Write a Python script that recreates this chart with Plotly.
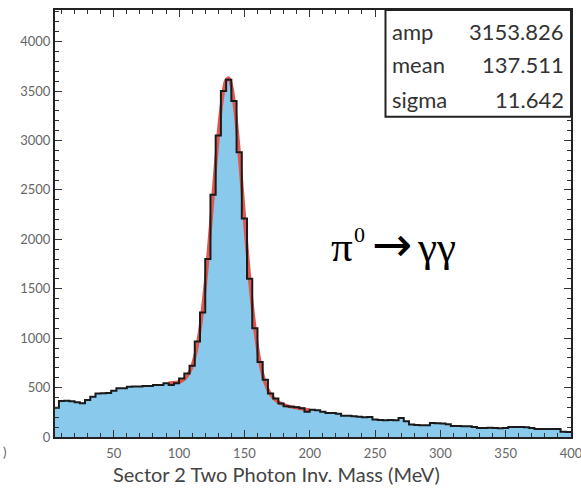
import plotly.graph_objects as go

# ---- data ----
bin_width = 4
first_edge = 4
counts = [295, 364, 366, 362, 352, 341, 374, 408, 440, 442,
          446, 469, 492, 494, 508, 510, 512, 516, 517, 526,
          527, 543, 526, 543, 592, 642, 720, 965, 1260, 1800,
          2450, 3050, 3500, 3615, 3400, 2880, 2210, 1600, 1100, 760,
          580, 440, 390, 340, 310, 305, 302, 290, 255, 275,
          270, 256, 243, 242, 236, 214, 215, 210, 206, 200,
          202, 176, 172, 170, 173, 170, 192, 160, 126, 121,
          120, 118, 142, 140, 137, 130, 112, 112, 108, 110,
          100, 92, 90, 93, 90, 88, 90, 100, 102, 100,
          98, 90, 82, 80, 80, 82, 80, 52, 50]

fit_mass = [92, 94, 96, 98, 100, 102, 104, 106, 108, 110,
            112, 114, 116, 118, 120, 122, 124, 126, 128, 130,
            132, 134, 136, 138, 140, 142, 144, 146, 148, 150,
            152, 154, 156, 158, 160, 162, 164, 166, 168, 170,
            172, 174, 176, 178, 180, 182, 184, 186, 188, 190,
            192, 194, 196, 198, 200]
fit_vals = [546, 547, 550, 552, 557, 568, 585, 614, 657, 721,
            811, 932, 1092, 1292, 1533, 1810, 2118, 2442, 2762, 3060,
            3314, 3505, 3613, 3631, 3557, 3396, 3162, 2873, 2550, 2216,
            1896, 1594, 1326, 1103, 902, 751, 633, 545, 480, 433,
            398, 373, 353, 340, 328, 318, 310, 305, 300, 295,
            290, 285, 280, 275, 270]

stat_names = ["amp", "mean", "sigma"]
stat_values = ["3153.826", "137.511", "11.642"]

x_title = "Sector 2 Two Photon Inv. Mass (MeV)"
decay_parts = ["π", "0", "→", "γγ"]   # π⁰→γγ

# ---- build ----
edges = [first_edge + bin_width * i for i in range(len(counts) + 1)]
step_y = counts + [counts[-1]]

fig = go.Figure()
fig.add_trace(go.Scatter(x=edges, y=step_y, mode="lines", line_shape="hv",
                         line=dict(width=0, color="rgba(0,0,0,0)"),
                         fill="tozeroy", fillcolor="#88C9EC", hoverinfo="skip"))
fig.add_trace(go.Scatter(x=fit_mass, y=fit_vals, mode="lines",
                         line=dict(color="#E2584E", width=3.5, shape="spline")))
fig.add_trace(go.Scatter(x=edges, y=step_y, mode="lines", line_shape="hv",
                         line=dict(color="#1a1a1a", width=2)))

tickfont = dict(family="Lato, Open Sans, sans-serif", size=13, color="#666")
axis_common = dict(showline=True, linecolor="#222", linewidth=2, mirror="ticks",
                   ticks="inside", ticklen=7, tickwidth=1.2, tickcolor="#333",
                   showgrid=False, zeroline=False, automargin=False,
                   ticklabeloverflow="allow", tickfont=tickfont)

fig.update_xaxes(range=[5, 400.01], dtick=50, tick0=0, ticklabelstandoff=3,
                 minor=dict(dtick=10, ticks="inside", ticklen=4, tickcolor="#333"),
                 **axis_common)
fig.update_yaxes(range=[0, 4320], dtick=500, tick0=0,
                 minor=dict(dtick=100, ticks="inside", ticklen=4, tickcolor="#333"),
                 **axis_common)

# stats box
fig.add_shape(type="rect", xref="x", yref="y", x0=258, x1=400, y0=3240, y1=4320,
              line=dict(color="#222", width=2), fillcolor="white", layer="above")
row_y = [4099, 3765, 3410]
statfont = dict(family="Lato, Open Sans, sans-serif", size=22, color="#333")
for name, val, yy in zip(stat_names, stat_values, row_y):
    fig.add_annotation(x=261.5, y=yy, xref="x", yref="y", text=name, showarrow=False,
                       xanchor="left", yanchor="middle", font=statfont)
    fig.add_annotation(x=396, y=yy, xref="x", yref="y", text=val, showarrow=False,
                       xanchor="right", yanchor="middle", font=statfont)

# π⁰→γγ label built from parts
serif = "Liberation Serif, serif"
part_pos = [(0.556, 0.445), (0.591, 0.475), (0.653, 0.452), (0.740, 0.445)]
part_font = [dict(family=serif, size=43, color="black"),
             dict(family=serif, size=22, color="black"),
             dict(family="DejaVu Sans, sans-serif", size=48, color="black"),
             dict(family=serif, size=43, color="black")]
for txt, (px, py), f in zip(decay_parts, part_pos, part_font):
    fig.add_annotation(x=px, y=py, xref="paper", yref="paper", text=txt, showarrow=False,
                       xanchor="center", yanchor="middle", font=f)

fig.add_annotation(x=0.43, y=0, xref="paper", yref="paper", text=x_title, showarrow=False,
                   xanchor="center", yanchor="middle", yshift=-37,
                   font=dict(family="Lato, Open Sans, sans-serif", size=20, color="#444"))

# clipped tick-label fragment at the far left edge
fig.add_annotation(x=-0.097, y=0, xref="paper", yref="paper", text=")", showarrow=False,
                   xanchor="center", yanchor="middle", yshift=-15, font=tickfont)

fig.update_layout(width=581, height=489, showlegend=False,
                  margin=dict(l=55, r=10, t=10, b=52, autoexpand=False),
                  plot_bgcolor="white", paper_bgcolor="white")

fig.write_html("out.html")
